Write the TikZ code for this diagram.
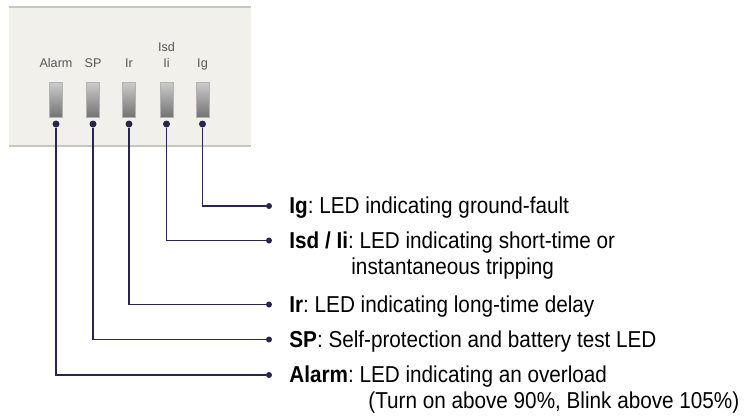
\documentclass[tikz,border=0pt]{standalone}
\usepackage{fontspec}
\setmainfont{Liberation Sans}
\newfontfamily\narrowsans{Liberation Sans}[FakeStretch=0.9]
\usepackage{xcolor}
\usepackage{tikz}
\usetikzlibrary{positioning,calc}
\definecolor{panelFill}{RGB}{241,240,234}
\definecolor{panelEdge}{RGB}{200,199,190}
\definecolor{wireNavy}{RGB}{40,37,80}
\definecolor{labelGray}{RGB}{85,85,85}
\frenchspacing

\begin{document}
\begin{tikzpicture}[x=1pt, y=-1pt,
    ledbox/.style={rectangle, draw=black!30, top color=black!20, bottom color=black!55, minimum width=13pt, minimum height=35pt, inner sep=0pt},
    ledlabel/.style={anchor=base, inner sep=0pt, text=labelGray, font=\fontsize{12.6}{14}\selectfont},
    pindot/.style={circle, fill=wireNavy, inner sep=0pt, minimum size=7pt},
    enddot/.style={circle, fill=wireNavy, inner sep=0pt, minimum size=6pt},
    wire/.style={draw=wireNavy, line width=1.2pt},
    desc/.style={anchor=base west, inner sep=0pt, font=\narrowsans\fontsize{23}{27}\selectfont}]
    \useasboundingbox (0,0) rectangle (748,416);

    % front panel
    \fill [panelFill] (9,7) rectangle (251,146);
    \draw [panelEdge, line width=1.2pt] (9,7) -- (251,7) (9,146) -- (251,146);

    \node [ledbox] (ledAlarm) at (56,99.5) {};
    \node [ledbox] (ledSP) at (93,99.5) {};
    \node [ledbox] (ledIr) at (129,99.5) {};
    \node [ledbox] (ledIsd) at (166.5,99.5) {};
    \node [ledbox] (ledIg) at (202.5,99.5) {};

    \node [ledlabel] (lblAlarm) at (56,67.5) {Alarm};
    \node [ledlabel] (lblSP) at (93,67.5) {SP};
    \node [ledlabel] (lblIr) at (129,67.5) {Ir};
    \node [ledlabel] (lblIi) at (166.5,67.5) {Ii};
    \node [ledlabel] (lblIsd) at (166.5,51.5) {Isd};
    \node [ledlabel] (lblIg) at (202.5,67.5) {Ig};

    \node [pindot] (dotAlarm) at (56,124) {};
    \node [pindot] (dotSP) at (93,124) {};
    \node [pindot] (dotIr) at (129,124) {};
    \node [pindot] (dotIsd) at (166.5,124) {};
    \node [pindot] (dotIg) at (202.5,124) {};

    % callouts
    \node [enddot] (endIg) at (269,206) {};
    \node [enddot] (endIsd) at (269,240.5) {};
    \node [enddot] (endIr) at (269,304.5) {};
    \node [enddot] (endSP) at (269,339.5) {};
    \node [enddot] (endAlarm) at (269,375) {};

    \draw [wire] (dotIg) |- (endIg);
    \draw [wire] (dotIsd) |- (endIsd);
    \draw [wire] (dotIr) |- (endIr);
    \draw [wire] (dotSP) |- (endSP);
    \draw [wire] (dotAlarm) |- (endAlarm);

    \node [desc] (txtIg) at ([xshift=17pt,yshift=-7.5pt]endIg.east) {\textbf{Ig}: LED indicating ground-fault};
    \node [desc] (txtIsd) at ([xshift=17pt,yshift=-7.5pt]endIsd.east) {\textbf{Isd / Ii}: LED indicating short-time or};
    \node [desc] (txtIsdB) at ([xshift=62pt,yshift=-26pt]txtIsd.base west) {instantaneous tripping};
    \node [desc] (txtIr) at ([xshift=17pt,yshift=-7.5pt]endIr.east) {\textbf{Ir}: LED indicating long-time delay};
    \node [desc] (txtSP) at ([xshift=17pt,yshift=-7.5pt]endSP.east) {\textbf{SP}: Self-protection and battery test LED};
    \node [desc] (txtAlarm) at ([xshift=17pt,yshift=-7.5pt]endAlarm.east) {\textbf{Alarm}: LED indicating an overload};
    \node [desc] (txtAlarmB) at ([xshift=79pt,yshift=-26pt]txtAlarm.base west) {(Turn on above 90\%, Blink above 105\%)};
\end{tikzpicture}
\end{document}
